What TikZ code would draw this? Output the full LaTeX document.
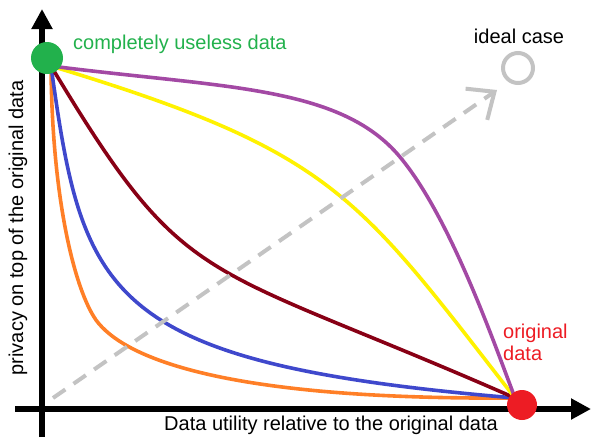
\documentclass[tikz,border=0pt]{standalone}
\usepackage{fontspec}
\setmainfont{Liberation Sans}
\usetikzlibrary{arrows.meta}
\definecolor{cpurple}{HTML}{A349A4}
\definecolor{cyellow}{HTML}{FFF200}
\definecolor{cmaroon}{HTML}{880015}
\definecolor{cblue}{HTML}{3F48CC}
\definecolor{corange}{HTML}{FF7F27}
\definecolor{cgreen}{HTML}{22B14C}
\definecolor{cred}{HTML}{ED1C24}
\definecolor{cgray}{HTML}{C3C3C3}
\begin{document}
\begin{tikzpicture}[x=1pt,y=-1pt,
  axis/.style={line width=6pt,-{Triangle[length=20pt,width=20pt]}},
  curve/.style={line width=3.6pt,line join=round,line cap=round},
  lbl/.style={font=\fontsize{20}{22}\selectfont,inner sep=0pt}]
\useasboundingbox (0,0) rectangle (593,437);
% axes
\coordinate (ybot) at (42,437);
\coordinate (ytop) at (42,9);
\coordinate (xl) at (15,409);
\coordinate (xr) at (591,409);
\draw[axis] (ybot) -- (ytop);
\draw[axis] (xl) -- (xr);
% endpoints
\coordinate (S) at (51,66);
\coordinate (E) at (515,398);
\coordinate (K) at (96,320);
\coordinate (M) at (400,157);
% curves
\draw[curve,corange] (S) .. controls (52,200) and (75,290) .. (K)
                         .. controls (123,357) and (220,400) .. (E);
\draw[curve,cblue] (S) .. controls (83,296) and (102,363) .. (E);
\draw[curve,cmaroon] (S) .. controls (188,294) and (196,258) .. (E);
\draw[curve,cyellow] (S) .. controls (335,152) and (357,195) .. (E);
\draw[curve,cpurple] (S) .. controls (222,88) and (340,85) .. (M)
                         .. controls (450,217) and (493,340) .. (E);
% ideal case arrow
\coordinate (d0) at (53,398);
\coordinate (d1) at (497,90);
\draw[cgray,line width=4pt,dash pattern=on 15pt off 10pt,-{Straight Barb[length=22pt,width=38pt]}] (d0) -- (d1);
\node[draw=cgray,line width=4pt,circle,minimum size=30pt,inner sep=0pt] (ideal) at (518,68) {};
\node[lbl,anchor=center] (idealtxt) at (519,36) {ideal case};
% points
\node[fill=cgreen,circle,minimum size=32pt,inner sep=0pt] (useless) at (47,58) {};
\node[fill=cred,circle,minimum size=30pt,inner sep=0pt] (orig) at (522,405) {};
% labels
\node[lbl,text=cgreen,anchor=west] (uselesstxt) at (73,44) {completely useless data};
\node[lbl,text=cred,align=left,anchor=west] (origtxt) at (503,342) {original\\data};
\node[lbl,anchor=center] (xlab) at (331,425) {Data utility relative to the original data};
\node[lbl,anchor=center,rotate=90] (ylab) at (18,228) {privacy on top of the original data};
\end{tikzpicture}
\end{document}
